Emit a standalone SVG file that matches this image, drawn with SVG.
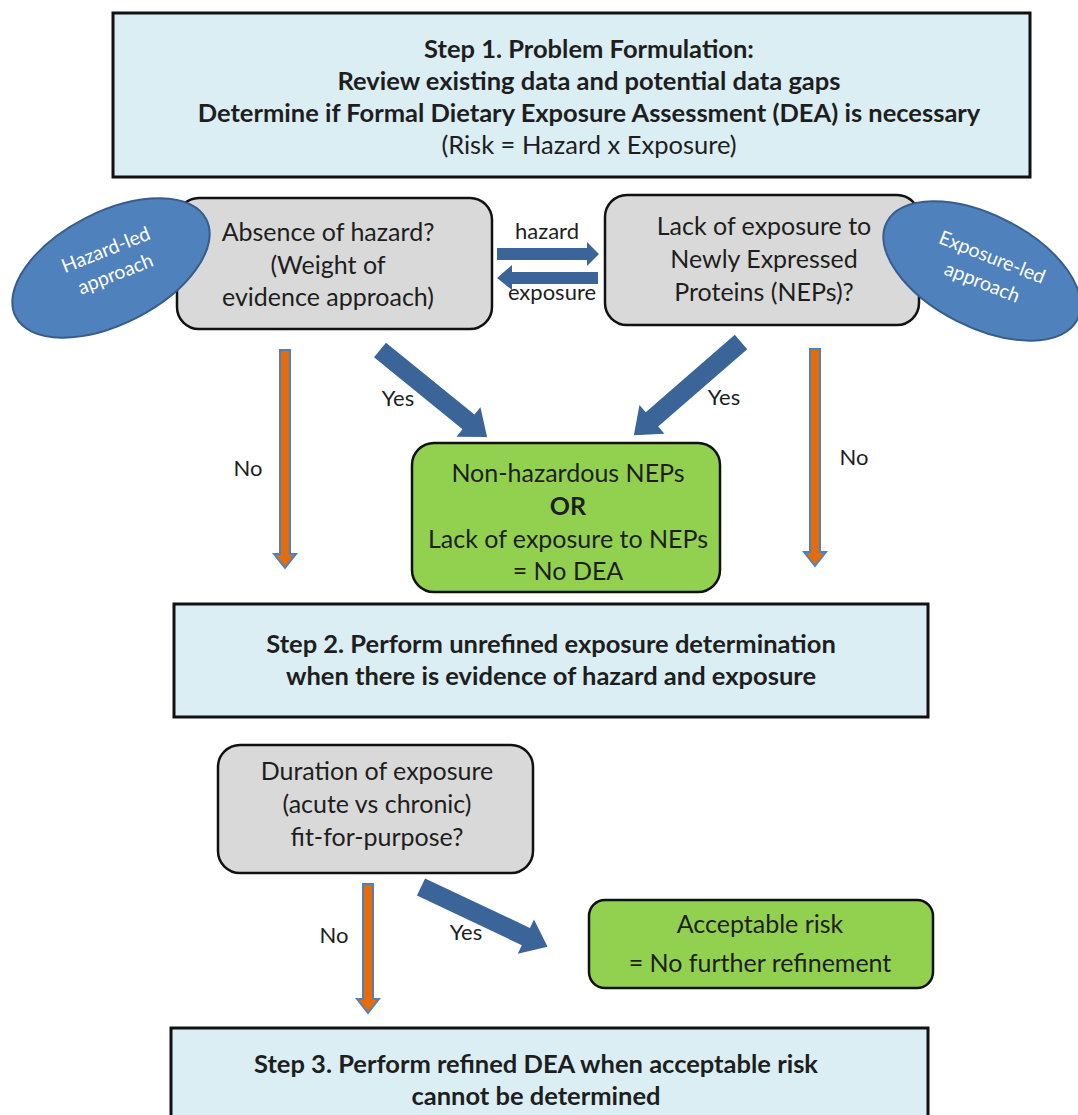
<svg xmlns="http://www.w3.org/2000/svg" width="1078" height="1115" viewBox="0 0 1078 1115">
<style>
text{font-family:Lato,"Liberation Sans",sans-serif;fill:#1e1e1e;text-anchor:middle}
.step{fill:#DAEEF3;stroke:#111;stroke-width:3}
.gray{fill:#D9D9D9;stroke:#111;stroke-width:2.5}
.green{fill:#92D050;stroke:#111;stroke-width:2.5}
.oval{fill:#4F81BD;stroke:#385D8A;stroke-width:2}
.ot{fill:#fff;font-size:19.5px}
.b{font-weight:bold}
.t{font-size:25px}
.s{font-size:25.5px}
.blue{fill:#3B6498}
.no{fill:#E46C0A;stroke:#4F81BD;stroke-width:2}
.lbl{font-size:22px}
</style>
<g id="step1">
<rect class="step" x="113" y="13" width="917" height="164"/>
<text class="s b" x="589" y="58">Step 1. Problem Formulation:</text>
<text class="s b" x="589" y="90">Review existing data and potential data gaps</text>
<text class="s b" x="589" y="122">Determine if Formal Dietary Exposure Assessment (DEA) is necessary</text>
<text class="s" x="589" y="154">(Risk = Hazard x Exposure)</text>
</g>
<g id="absence">
<rect class="gray" x="177" y="198" width="315" height="131" rx="22"/>
<text class="t" x="328" y="241">Absence of hazard?</text>
<text class="t" x="328" y="274">(Weight of</text>
<text class="t" x="328" y="306">evidence approach)</text>
</g>
<g id="lack">
<rect class="gray" x="605" y="195" width="314" height="130" rx="22"/>
<text class="t" x="764" y="235">Lack of exposure to</text>
<text class="t" x="764" y="268">Newly Expressed</text>
<text class="t" x="764" y="301">Proteins (NEPs)?</text>
</g>
<g id="hazard-led">
<ellipse class="oval" cx="111" cy="268" rx="107" ry="56" transform="rotate(-27 111 268)"/>
<g transform="translate(110.5 261.5) rotate(-21.6)">
<text class="ot" x="0" y="-6">Hazard-led</text>
<text class="ot" x="0" y="20">approach</text>
</g>
</g>
<g id="exposure-led">
<ellipse class="oval" cx="982" cy="271" rx="107" ry="56" transform="rotate(27 982 271)"/>
<g transform="translate(987.5 269) rotate(21.5)">
<text class="ot" x="0" y="-6">Exposure-led</text>
<text class="ot" x="0" y="21">approach</text>
</g>
</g>
<g id="no-dea">
<rect class="green" x="412" y="443" width="308" height="149" rx="22"/>
<text class="t" x="568" y="482">Non-hazardous NEPs</text>
<text class="t b" x="568" y="515">OR</text>
<text class="t" x="568" y="548">Lack of exposure to NEPs</text>
<text class="t" x="568" y="580">= No DEA</text>
</g>
<g id="step2">
<rect class="step" x="174" y="604" width="754" height="113"/>
<text class="s b" x="551" y="653">Step 2. Perform unrefined exposure determination</text>
<text class="s b" x="551" y="685">when there is evidence of hazard and exposure</text>
</g>
<g id="duration">
<rect class="gray" x="218" y="745" width="315" height="128" rx="22"/>
<text class="t" x="377" y="780">Duration of exposure</text>
<text class="t" x="377" y="813">(acute vs chronic)</text>
<text class="t" x="377" y="846">fit-for-purpose?</text>
</g>
<g id="acceptable">
<rect class="green" x="589" y="900" width="344" height="88" rx="16"/>
<text class="t" x="760" y="933">Acceptable risk</text>
<text class="t" x="760" y="972">= No further refinement</text>
</g>
<g id="step3">
<rect class="step" x="171" y="1028" width="757" height="100"/>
<text class="s b" x="536" y="1073">Step 3.  Perform refined DEA when acceptable risk</text>
<text class="s b" x="536" y="1105">cannot be determined</text>
</g>
<g id="connectors">
<polygon class="blue" points="497,248 587,248 587,242 599,254 587,266 587,260 497,260"/>
<polygon class="blue" points="598,272 512,272 512,265 497,278 512,290 512,284 598,284"/>
<text class="lbl" x="547" y="239">hazard</text>
<text class="lbl" x="552" y="300">exposure</text>
<polygon class="blue" points="0,-9.5 114,-9.5 114,-19 138,0 114,19 114,9.5 0,9.5" transform="translate(380 350) rotate(39.1)"/>
<polygon class="blue" points="0,-9.5 118,-9.5 118,-19 142,0 118,19 118,9.5 0,9.5" transform="translate(741 342) rotate(139)"/>
<polygon class="blue" points="0,-9.5 116,-9.5 116,-19 140,0 116,19 116,9.5 0,9.5" transform="translate(421 887) rotate(25.3)"/>
<polygon class="no" points="280,350 290,350 290,554 296,554 285,568 274,554 280,554"/>
<polygon class="no" points="810,349 820,349 820,552 826,552 815,566 804,552 810,552"/>
<polygon class="no" points="363,884 373,884 373,999 379,999 368,1013 357,999 363,999"/>
<text class="lbl" x="398" y="406">Yes</text>
<text class="lbl" x="724" y="405">Yes</text>
<text class="lbl" x="466" y="940">Yes</text>
<text class="lbl" x="248" y="476">No</text>
<text class="lbl" x="854" y="465">No</text>
<text class="lbl" x="334" y="943">No</text>
</g>
</svg>
